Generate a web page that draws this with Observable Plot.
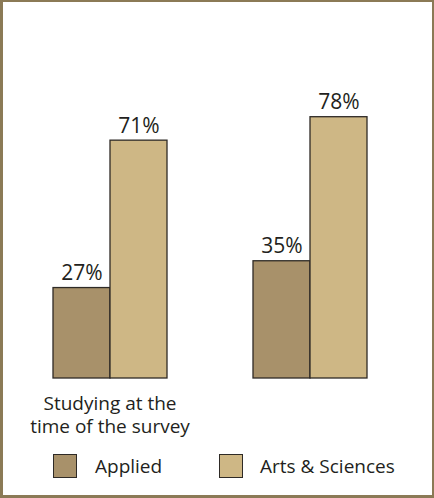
<!DOCTYPE html>
<html>
<head>
<meta charset="utf-8">
<script src="https://cdn.jsdelivr.net/npm/d3@7"></script>
<script src="https://cdn.jsdelivr.net/npm/@observablehq/plot@0.6"></script>
<style>
  html, body { margin: 0; padding: 0; background: #fff; }
  #wrap { position: relative; width: 434px; height: 498px; overflow: hidden; font-family: "Open Sans", sans-serif; color: #231f20; }
  #wrap svg { position: absolute; left: 0; top: 0; }
  #frame { position: absolute; left: 0; top: 0; right: 0; bottom: 0; box-sizing: border-box;
           border-style: solid; border-color: #8b7a56; border-width: 2px 2px 3px 3px; pointer-events: none; }
  .sw { position: absolute; top: 454px; width: 24px; height: 24px; box-sizing: border-box; border: 1.5px solid #2e2a26; }
  .lt { position: absolute; top: 454px; font-size: 19px; line-height: 24px; white-space: nowrap; }
</style>
</head>
<body>
<div id="wrap"><div id="frame"></div></div>
<script>
const categories = ["Studying at the time of the survey", "Group 2"];
const categoryLabels = ["Studying at the\ntime of the survey", ""];
const series = ["Applied", "Arts & Sciences"];
const applied = [27, 35];
const artsSciences = [71, 78];
const colors = ["#a8916a", "#ceb785"];

const rows = [];
categories.forEach((g, i) => {
  rows.push({group: g, series: series[0], value: applied[i]});
  rows.push({group: g, series: series[1], value: artsSciences[i]});
});

const chart = Plot.plot({
  width: 434,
  height: 440,
  marginLeft: 52,
  marginRight: 67,
  marginTop: 43,
  marginBottom: 62,
  style: {fontFamily: "Open Sans, sans-serif", color: "#231f20", background: "transparent", overflow: "visible"},
  fx: {domain: categories, paddingInner: 0.425, paddingOuter: 0, axis: null, label: null},
  x: {domain: series, padding: 0, axis: null},
  y: {domain: [0, 100], axis: null},
  color: {domain: series, range: colors},
  marks: [
    Plot.barY(rows, {fx: "group", x: "series", y: "value", fill: "series", stroke: "#2e2a26", strokeWidth: 1.3}),
    Plot.text(rows, {fx: "group", x: "series", y: "value", text: d => d.value + "%", dy: -8, lineAnchor: "bottom", fontSize: 21, fill: "#231f20"}),
    Plot.text(categories, {fx: d => d, text: d => categoryLabels[categories.indexOf(d)], frameAnchor: "bottom", lineAnchor: "top", dy: 14, fontSize: 19, lineHeight: 1.26, fill: "#231f20"})
  ]
});

const wrap = document.getElementById("wrap");
wrap.insertBefore(chart, wrap.firstChild);

const legendPos = [{sw: 53, tx: 95}, {sw: 219, tx: 260}];
series.forEach((s, i) => {
  const sw = document.createElement("div");
  sw.className = "sw";
  sw.style.left = legendPos[i].sw + "px";
  sw.style.background = colors[i];
  wrap.appendChild(sw);
  const t = document.createElement("div");
  t.className = "lt";
  t.style.left = legendPos[i].tx + "px";
  t.textContent = s;
  wrap.appendChild(t);
});
</script>
</body>
</html>
